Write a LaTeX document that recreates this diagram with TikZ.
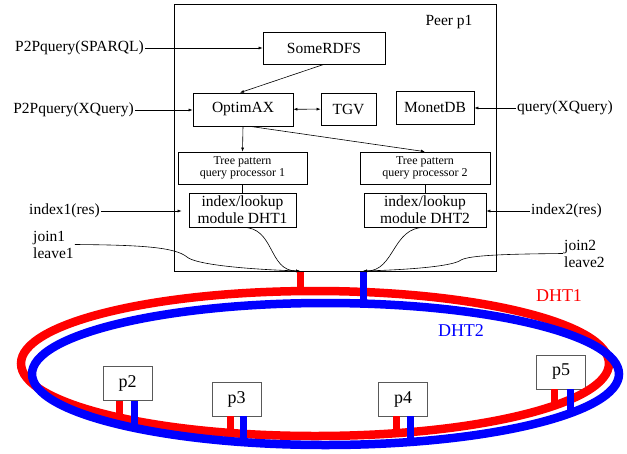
\documentclass[tikz,border=0pt]{standalone}
\usepackage{fontspec}
\setmainfont{Liberation Serif}
\usetikzlibrary{arrows.meta,positioning}
\definecolor{dhtred}{HTML}{FF0000}
\definecolor{dhtblue}{HTML}{0000FF}
\tikzset{
  box/.style={draw, line width=0.7pt, inner sep=0pt, align=center, font=\fontsize{15.5}{17}\selectfont},
  tpbox/.style={box, font=\fontsize{12}{12.5}\selectfont},
  peerbox/.style={draw=black!65, fill=white, line width=0.8pt, inner sep=0pt, minimum width=49pt, minimum height=34pt, font=\fontsize{18}{20}\selectfont},
  lab/.style={inner sep=1pt, align=left, font=\fontsize{15.5}{17}\selectfont},
  arr/.style={-{Latex[length=4pt,width=3pt]}, line width=0.6pt},
  dblarr/.style={{Latex[length=4pt,width=3pt]}-{Latex[length=4pt,width=3pt]}, line width=0.6pt},
  link/.style={line width=0.6pt},
  ringred/.style={draw=dhtred, line width=8.5pt},
  ringblue/.style={draw=dhtblue, line width=8.5pt},
  stubred/.style={draw=dhtred, line width=7pt},
  stubblue/.style={draw=dhtblue, line width=7pt},
  dhtlab/.style={inner sep=0pt, font=\fontsize{18}{20}\selectfont},
}

\begin{document}
\begin{tikzpicture}[x=1pt, y=-1pt]
  \useasboundingbox (0,0) rectangle (627,453);

  % rings and where the peers hang on them
  \coordinate (redc) at (315,363.5);
  \coordinate (bluec) at (325.5,374);
  \coordinate (att1) at (300,271);
  \coordinate (att2) at (363,271);
  \coordinate (rtop) at (300,291);
  \coordinate (btop) at (363,303.5);
  \coordinate (r2) at (119,417.5);
  \coordinate (b2) at (134,427.8);
  \coordinate (r3) at (230,433);
  \coordinate (b3) at (243,442);
  \coordinate (r4) at (396,433.2);
  \coordinate (b4) at (410,442);
  \coordinate (r5) at (554,405.7);
  \coordinate (b5) at (570,413.3);

  \node[peerbox] (p2) at (127.5,383.5) {p2};
  \node[peerbox] (p3) at (236.5,399) {p3};
  \node[peerbox] (p4) at (403,399) {p4};
  \node[peerbox] (p5) at (561,372) {p5};

  \draw[ringred] (redc) ellipse [x radius=294pt, y radius=72.5pt];
  \draw[stubred] (att1) -- (rtop);
  \draw[stubred] (r2 |- p2.south) -- (r2);
  \draw[stubred] (r3 |- p3.south) -- (r3);
  \draw[stubred] (r4 |- p4.south) -- (r4);
  \draw[stubred] (r5 |- p5.south) -- (r5);

  \draw[ringblue] (bluec) ellipse [x radius=293.5pt, y radius=71pt];
  \draw[stubblue] (att2) -- (btop);
  \draw[stubblue] (b2 |- p2.south) -- (b2);
  \draw[stubblue] (b3 |- p3.south) -- (b3);
  \draw[stubblue] (b4 |- p4.south) -- (b4);
  \draw[stubblue] (b5 |- p5.south) -- (b5);

  \node[dhtlab, text=dhtred] (dht1) at (559,296) {DHT1};
  \node[dhtlab, text=dhtblue] (dht2) at (461,331) {DHT2};

  % peer p1
  \node[draw, line width=0.7pt, inner sep=0pt, minimum width=322pt, minimum height=267pt] (peer) at (335,137.5) {};
  \node[lab] (peername) at (449,22) {Peer p1};

  \node[box, minimum width=122pt, minimum height=32pt] (somerdfs) at (324,48) {SomeRDFS};
  \node[box, minimum width=100pt, minimum height=33pt] (optimax) at (243,109.5) {OptimAX};
  \node[box, minimum width=55pt, minimum height=32pt] (tgv) at (348.5,109) {TGV};
  \node[box, minimum width=78pt, minimum height=33pt] (monetdb) at (435,107.5) {MonetDB};
  \node[tpbox, minimum width=129pt, minimum height=32pt] (tp1) at (242.5,168) {Tree pattern\\query processor 1};
  \node[tpbox, minimum width=130pt, minimum height=32pt] (tp2) at (425,168) {Tree pattern\\query processor 2};
  \node[box, minimum width=107pt, minimum height=34pt] (idx1) at (242.5,210) {index/lookup\\module DHT1};
  \node[box, minimum width=122pt, minimum height=34pt] (idx2) at (425,210) {index/lookup\\module DHT2};

  % outside calls
  \node[lab, anchor=east] (sparql) at (145,48) {P2Pquery(SPARQL)};
  \node[lab, anchor=east] (xquery) at (135,110) {P2Pquery(XQuery)};
  \node[lab, anchor=west] (query) at (516,108) {query(XQuery)};
  \node[lab, anchor=east] (index1) at (101,211) {index1(res)};
  \node[lab, anchor=west] (index2) at (530,211) {index2(res)};
  \node[lab, anchor=west] (join1) at (32,244.5) {join1\\leave1};
  \node[lab, anchor=west] (join2) at (563,253.5) {join2\\leave2};

  \draw[arr] (sparql.east) -- (sparql.east -| somerdfs.west);
  \draw[arr] (xquery.east) -- (xquery.east -| optimax.west);
  \draw[arr] (query.west) -- (query.west -| monetdb.east);
  \draw[arr, shorten >=7pt] (index1.east) -- (index1.east -| idx1.west);
  \draw[arr] (index2.west) -- (index2.west -| idx2.east);

  \draw[arr] (somerdfs.south) -- ([xshift=-3pt]optimax.north);
  \draw[dblarr] (optimax) -- (tgv);
  \draw[arr] (optimax.south) -- (tp1.north);
  \draw[arr] ([xshift=7pt]optimax.south) -- (tp2.north);
  \draw[link] (tp1.south) -- (idx1.north);
  \draw[link] (tp2.south) -- (idx2.north);

  \draw[arr] (idx1.south) .. controls (275,227) and (268,271) .. (att1);
  \draw[arr] (idx2.south) .. controls (392,227) and (395,271) .. (att2);
  \draw[arr] (join1.east) .. controls (140,245) and (175,247) .. (187,257) .. controls (195,264) and (240,269) .. (att1);
  \draw[arr] (join2.west) .. controls (510,254) and (470,255) .. (461,260) .. controls (452,267) and (400,270) .. (att2);
\end{tikzpicture}
\end{document}
